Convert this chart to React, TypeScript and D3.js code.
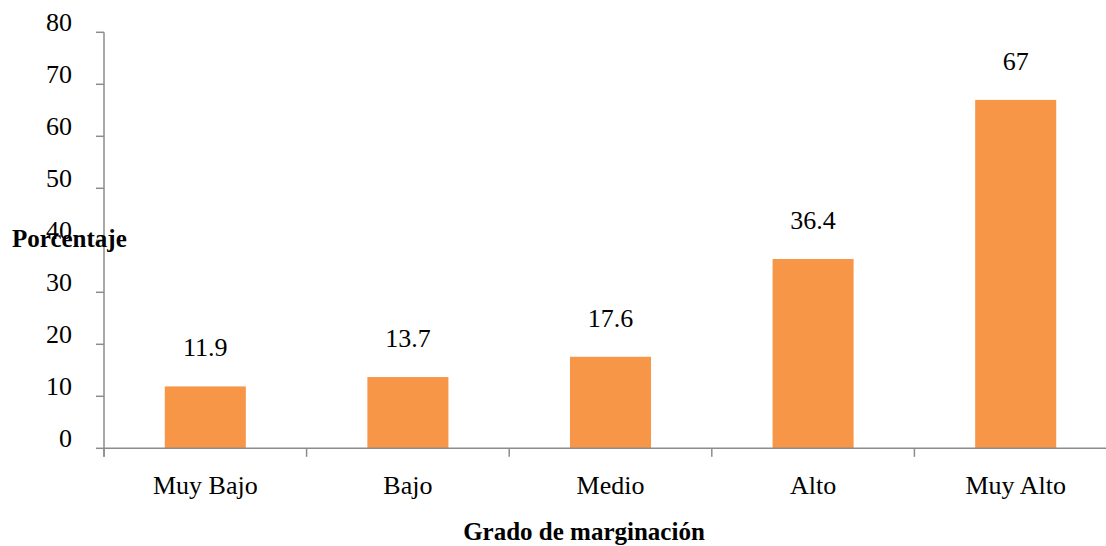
import React from "react";
import * as d3 from "d3";

const categories = ["Muy Bajo", "Bajo", "Medio", "Alto", "Muy Alto"];
const values = [11.9, 13.7, 17.6, 36.4, 67];
const valueLabels = ["11.9", "13.7", "17.6", "36.4", "67"];
const yTicks = [0, 10, 20, 30, 40, 50, 60, 70, 80];

const W = 1106;
const H = 546;
const left = 104;
const right = 1117;
const top = 32.3;
const bottom = 448.3;

const FONT = "'Liberation Serif', 'DejaVu Serif', serif";
const AXIS = "#8c8c8c";
const BAR = "#F79646";
const LABEL_SIZE = 26;
const TITLE_SIZE = 25;

export default function App() {
  const x = d3.scaleBand<string>().domain(categories).range([left, right]).padding(0);
  const y = d3.scaleLinear().domain([0, 80]).range([bottom, top]);
  const barW = x.bandwidth() * 0.4;
  const edges = [...categories.map((c) => x(c) as number), right];

  return (
    <svg
      width={W}
      height={H}
      style={{ position: "absolute", left: 0, top: 0, background: "#fff" }}
      fontFamily={FONT}
    >
      {/* bars */}
      {categories.map((c, i) => {
        const cx = (x(c) as number) + x.bandwidth() / 2;
        return (
          <g key={c}>
            <rect
              x={cx - barW / 2}
              y={y(values[i])}
              width={barW}
              height={y(0) - y(values[i])}
              fill={BAR}
            />
            <text
              x={cx}
              y={y(values[i]) - 30}
              textAnchor="middle"
              fontSize={LABEL_SIZE}
              fill="#000"
            >
              {valueLabels[i]}
            </text>
            <text x={cx} y={494} textAnchor="middle" fontSize={LABEL_SIZE} fill="#000">
              {c}
            </text>
          </g>
        );
      })}

      {/* y axis */}
      <line x1={left} x2={left} y1={top} y2={bottom + 8.5} stroke={AXIS} strokeWidth={1.5} />
      {yTicks.map((t) => (
        <g key={t}>
          <line x1={left - 8} x2={left} y1={y(t)} y2={y(t)} stroke={AXIS} strokeWidth={1.5} />
          <text x={72} y={y(t) - 1} textAnchor="end" fontSize={LABEL_SIZE} fill="#000">
            {t}
          </text>
        </g>
      ))}

      {/* x axis */}
      <line x1={left} x2={right} y1={bottom} y2={bottom} stroke={AXIS} strokeWidth={1.5} />
      {edges.map((e, i) => (
        <line key={i} x1={e} x2={e} y1={bottom} y2={bottom + 8.5} stroke={AXIS} strokeWidth={1.5} />
      ))}

      {/* axis titles */}
      <text x={12} y={247} fontSize={TITLE_SIZE} fontWeight="bold" fill="#000">
        Porcentaje
      </text>
      <text x={584} y={540} textAnchor="middle" fontSize={TITLE_SIZE} fontWeight="bold" fill="#000">
        Grado de marginación
      </text>
    </svg>
  );
}
